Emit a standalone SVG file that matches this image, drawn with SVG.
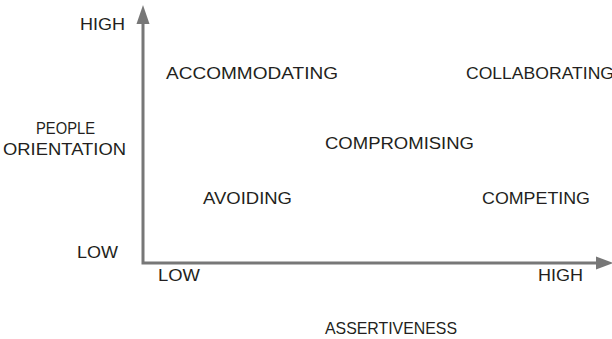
<svg xmlns="http://www.w3.org/2000/svg" width="612" height="339" viewBox="0 0 612 339">
<style>
text{font-family:"Liberation Sans",Arial,sans-serif;font-size:17px;fill:#231f20}
.ax{stroke:#777;stroke-width:3;fill:none}
.ah{fill:#777}
</style>
<rect width="612" height="339" fill="#fff"/>
<g id="connectors">
<path class="ax" d="M143,20 V263 H600"/>
<path class="ah" d="M143,5 L149.5,24 L136.5,24 Z"/>
<path class="ah" d="M613,263 L596,256.5 L596,269.5 Z"/>
</g>
<g id="y-high"><text x="80" y="30" textLength="45" lengthAdjust="spacingAndGlyphs">HIGH</text></g>
<g id="y-label"><text x="36" y="134" textLength="59" lengthAdjust="spacingAndGlyphs">PEOPLE</text><text x="3" y="155" textLength="123" lengthAdjust="spacingAndGlyphs">ORIENTATION</text></g>
<g id="y-low"><text x="77" y="258" textLength="41" lengthAdjust="spacingAndGlyphs">LOW</text></g>
<g id="x-low"><text x="158" y="281" textLength="42" lengthAdjust="spacingAndGlyphs">LOW</text></g>
<g id="x-high"><text x="538" y="281" textLength="45" lengthAdjust="spacingAndGlyphs">HIGH</text></g>
<g id="x-label"><text x="325" y="334" textLength="132" lengthAdjust="spacingAndGlyphs">ASSERTIVENESS</text></g>
<g id="accommodating"><text x="166" y="79" textLength="172" lengthAdjust="spacingAndGlyphs">ACCOMMODATING</text></g>
<g id="collaborating"><text x="466" y="79" textLength="148" lengthAdjust="spacingAndGlyphs">COLLABORATING</text></g>
<g id="compromising"><text x="325" y="149" textLength="149" lengthAdjust="spacingAndGlyphs">COMPROMISING</text></g>
<g id="avoiding"><text x="203" y="204" textLength="89" lengthAdjust="spacingAndGlyphs">AVOIDING</text></g>
<g id="competing"><text x="482" y="204" textLength="108" lengthAdjust="spacingAndGlyphs">COMPETING</text></g>
</svg>
